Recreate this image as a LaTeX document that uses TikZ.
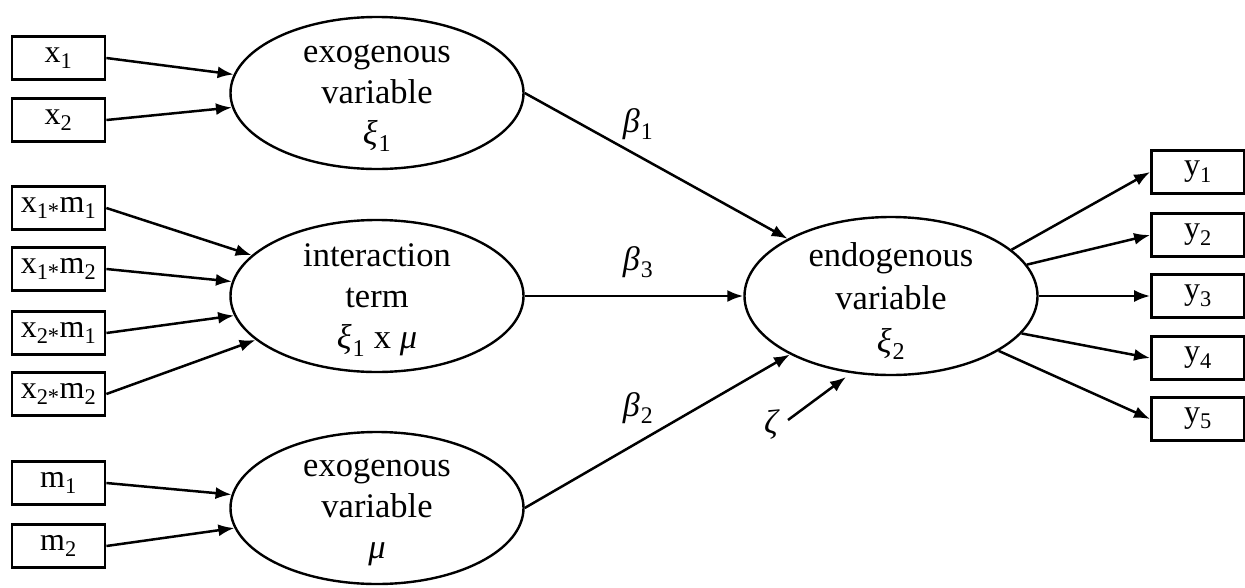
\documentclass[tikz,border=0pt]{standalone}
\usepackage{fontspec}
\setmainfont{Liberation Serif}
\usetikzlibrary{shapes.geometric,arrows.meta}
\newcommand{\gsym}[2]{\textit{#1}\kern1pt\textsubscript{#2}}
\begin{document}
\begin{tikzpicture}[x=1pt,y=-1pt,
  obs/.style={draw,line width=2.8pt,minimum width=93pt,minimum height=43pt,inner sep=0pt,font=\fontsize{32}{36}\selectfont},
  lat/.style={draw,ellipse,line width=2.4pt,minimum width=293pt,minimum height=152pt,inner sep=0pt},
  ltext/.style={align=center,inner sep=0pt,font=\fontsize{34.5}{41}\selectfont},
  arr/.style={line width=2.5pt,-{Latex[length=16pt,width=12pt]}},
  lab/.style={inner sep=0pt,font=\fontsize{34}{38}\selectfont}]
\useasboundingbox (0,0) rectangle (1245,587);
% left indicators
\node[obs] (x1) at (58.5,58) {x\textsubscript{1}};
\node[obs] (x2) at (58.5,120) {x\textsubscript{2}};
\node[obs] (x1m1) at (58.5,208) {x\textsubscript{1*}m\textsubscript{1}};
\node[obs] (x1m2) at (58.5,269) {x\textsubscript{1*}m\textsubscript{2}};
\node[obs] (x2m1) at (58.5,333) {x\textsubscript{2*}m\textsubscript{1}};
\node[obs] (x2m2) at (58.5,394) {x\textsubscript{2*}m\textsubscript{2}};
\node[obs] (m1) at (58.5,483) {m\textsubscript{1}};
\node[obs] (m2) at (58.5,546) {m\textsubscript{2}};
% latent variables
\node[lat] (e1) at (377,93) {};
\node[ltext] (t1) at (377,98) {exogenous\\variable\\\gsym{ξ}{1}};
\node[lat] (e2) at (377,296) {};
\node[ltext] (t2) at (377,300) {interaction\\term\\\gsym{ξ}{1} x \textit{μ}};
\node[lat] (e3) at (377,508) {};
\node[ltext] (t3) at (377,512) {exogenous\\variable\\\textit{μ}};
\node[lat,minimum height=158pt] (en) at (891,296) {};
\node[ltext,font=\fontsize{34.5}{43}\selectfont] (t4) at (891,301) {endogenous\\variable\\\gsym{ξ}{2}};
% right indicators
\node[obs] (y1) at (1198,172) {y\textsubscript{1}};
\node[obs] (y2) at (1198,235) {y\textsubscript{2}};
\node[obs] (y3) at (1198,296) {y\textsubscript{3}};
\node[obs] (y4) at (1198,358) {y\textsubscript{4}};
\node[obs] (y5) at (1198,419) {y\textsubscript{5}};
% labels
\node[lab] (b1) at (638,124) {\gsym{β}{1}};
\node[lab] (b3) at (638,262) {\gsym{β}{3}};
\node[lab] (b2) at (638,408) {\gsym{β}{2}};
\node[lab] (z) at (772,425) {\textit{ζ}};
\coordinate (zs) at (788,420);
\coordinate (ze) at (846,377);
% connectors
\draw[arr] (x1.east) -- (e1);
\draw[arr] (x2.east) -- (e1);
\draw[arr] (x1m1.east) -- (e2);
\draw[arr] (x1m2.east) -- (e2);
\draw[arr] (x2m1.east) -- (e2);
\draw[arr] (x2m2.east) -- (e2);
\draw[arr] (m1.east) -- (e3);
\draw[arr] (m2.east) -- (e3);
\draw[arr] (e1.east) -- (en);
\draw[arr] (e2.east) -- (en.west);
\draw[arr] (e3.east) -- (en);
\draw[arr] (zs) -- (ze);
\draw[arr] (en.21.5) -- (y1.west);
\draw[arr] (en.13.2) -- (y2.west);
\draw[arr] (en.east) -- (y3.west);
\draw[arr] (en.-16.5) -- (y4.west);
\draw[arr] (en.-27) -- (y5.west);
\end{tikzpicture}
\end{document}
